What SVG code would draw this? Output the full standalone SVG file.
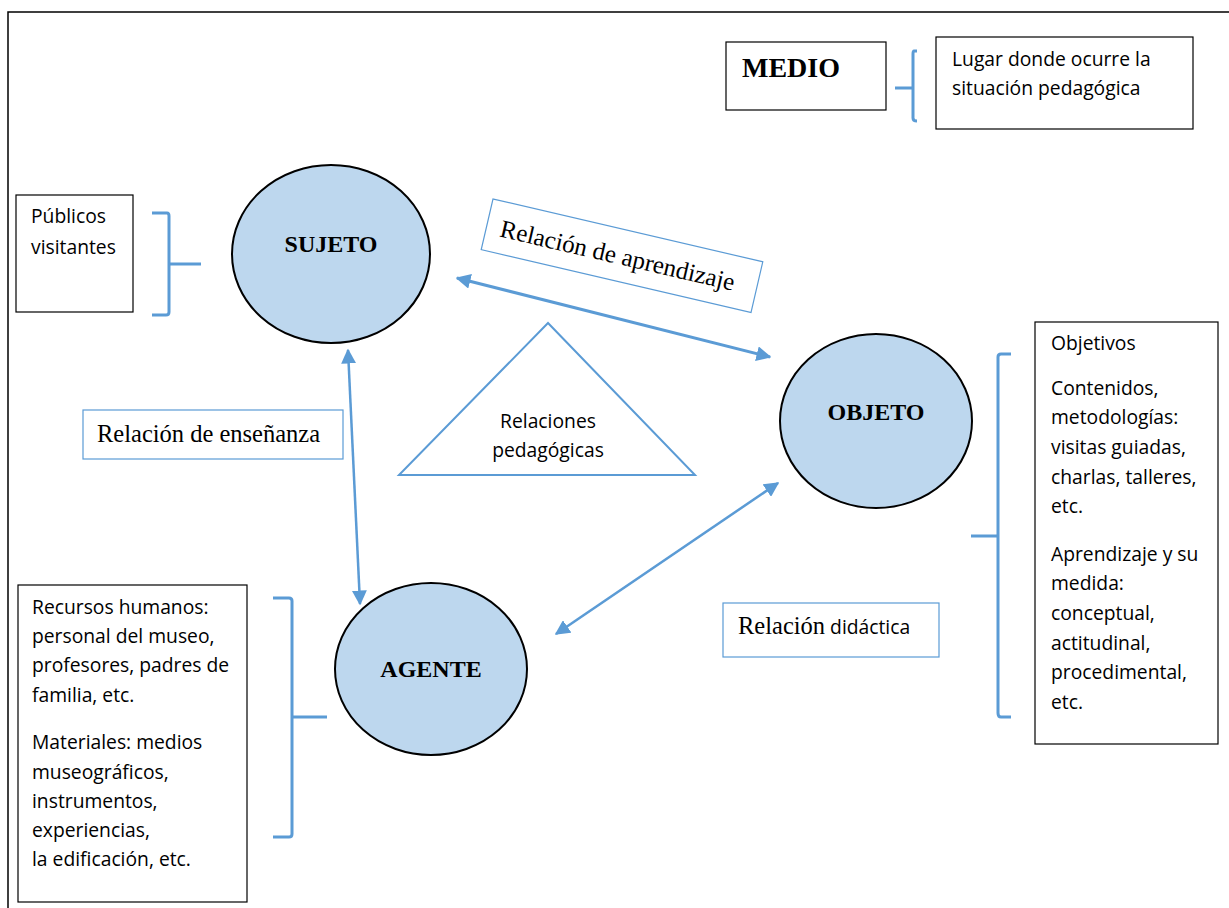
<svg xmlns="http://www.w3.org/2000/svg" width="1229" height="908" viewBox="0 0 1229 908">
<style>
.box{fill:#fff;stroke:#000;stroke-width:1.2}
.bbox{fill:#fff;stroke:#5b9bd5;stroke-width:1.2}
.ell{fill:#bdd7ee;stroke:#000;stroke-width:2}
.br{fill:none;stroke:#5b9bd5;stroke-width:3}
.con{fill:none;stroke:#5b9bd5}
.t{font-family:"Open Sans","Liberation Sans",sans-serif;font-size:19.3px;fill:#000}
.s{font-family:"Liberation Serif",serif;fill:#000}
.sb{font-family:"Liberation Serif",serif;font-weight:bold;fill:#000}
</style>
<defs>
<marker id="ah" viewBox="0 0 10 10" refX="9" refY="5" markerWidth="5" markerHeight="5" orient="auto-start-reverse" markerUnits="strokeWidth">
<path d="M0,0 L10,5 L0,10 z" fill="#5b9bd5"/>
</marker>
<marker id="ah2" viewBox="0 0 10 10" refX="9" refY="5" markerWidth="6" markerHeight="6" orient="auto-start-reverse" markerUnits="strokeWidth">
<path d="M0,0 L10,5 L0,10 z" fill="#5b9bd5"/>
</marker>
</defs>
<rect width="1229" height="908" fill="#fff"/>
<path d="M8,908 V12 H1229" fill="none" stroke="#000" stroke-width="1.5"/>

<g id="connectors">
<line class="con" x1="457" y1="278" x2="770" y2="357" stroke-width="3" marker-start="url(#ah)" marker-end="url(#ah)"/>
<line class="con" x1="348" y1="350" x2="360" y2="604" stroke-width="2.5" marker-start="url(#ah2)" marker-end="url(#ah2)"/>
<line class="con" x1="556" y1="634" x2="778" y2="483" stroke-width="2.5" marker-start="url(#ah2)" marker-end="url(#ah2)"/>
<path class="br" d="M917,51 H914 Q913,51 913,54 V118 Q913,121 917,121 M913,88 H895"/>
<path class="br" d="M152,213 H167 Q169,213 169,216 V312 Q169,315 166,315 H152 M169,264 H201"/>
<path class="br" d="M273,598 H289 Q292,598 292,601 V834 Q292,837 289,837 H273 M292,717 H327"/>
<path class="br" d="M1011,354 H1001 Q998,354 998,357 V713 Q998,717 1001,717 H1011 M998,536 H971"/>
</g>

<g id="medio">
<rect class="box" x="726" y="42" width="160" height="68"/>
<text class="sb" x="742" y="77" font-size="28">MEDIO</text>
</g>
<g id="lugar">
<rect class="box" x="936" y="37" width="257" height="92"/>
<text class="t" x="952" y="66">Lugar donde ocurre la</text>
<text class="t" x="952" y="95">situación pedagógica</text>
</g>
<g id="publicos">
<rect class="box" x="16" y="195" width="117" height="117"/>
<text class="t" x="31" y="223">Públicos</text>
<text class="t" x="31" y="254">visitantes</text>
</g>
<g id="sujeto">
<ellipse class="ell" cx="331" cy="254" rx="99" ry="89"/>
<text class="sb" x="331" y="252" font-size="24" text-anchor="middle">SUJETO</text>
</g>
<g id="rel-aprendizaje">
<g transform="translate(493,199) rotate(13.1)">
<rect class="bbox" x="0" y="0" width="277" height="52"/>
<text class="s" x="14" y="35" font-size="25">Relación de aprendizaje</text>
</g>
</g>
<g id="triangulo">
<polygon points="548,323 399,475 695,475" fill="#fff" stroke="#5b9bd5" stroke-width="2"/>
<text class="t" x="548" y="428" text-anchor="middle">Relaciones</text>
<text class="t" x="548" y="457" text-anchor="middle">pedagógicas</text>
</g>
<g id="rel-ensenanza">
<rect class="bbox" x="83" y="410" width="260" height="49"/>
<text class="s" x="97" y="442" font-size="24.5">Relación de enseñanza</text>
</g>
<g id="objeto">
<ellipse class="ell" cx="876" cy="421" rx="96" ry="87"/>
<text class="sb" x="876" y="420" font-size="24" text-anchor="middle">OBJETO</text>
</g>
<g id="objetivos">
<rect class="box" x="1035" y="322" width="183" height="422"/>
<text class="t" x="1051" y="350">Objetivos</text>
<text class="t" x="1051" y="395">Contenidos,</text>
<text class="t" x="1051" y="424">metodologías:</text>
<text class="t" x="1051" y="454">visitas guiadas,</text>
<text class="t" x="1051" y="484">charlas, talleres,</text>
<text class="t" x="1051" y="513">etc.</text>
<text class="t" x="1051" y="561">Aprendizaje y su</text>
<text class="t" x="1051" y="590">medida:</text>
<text class="t" x="1051" y="620">conceptual,</text>
<text class="t" x="1051" y="650">actitudinal,</text>
<text class="t" x="1051" y="679">procedimental,</text>
<text class="t" x="1051" y="709">etc.</text>
</g>
<g id="rel-didactica">
<rect class="bbox" x="723" y="603" width="216" height="54"/>
<text x="738" y="634"><tspan class="s" font-size="24.5">Relación</tspan><tspan class="t" font-size="20.5"> didáctica</tspan></text>
</g>
<g id="agente">
<ellipse class="ell" cx="431" cy="669" rx="96" ry="86"/>
<text class="sb" x="431" y="677" font-size="24" text-anchor="middle">AGENTE</text>
</g>
<g id="recursos">
<rect class="box" x="18" y="585" width="229" height="317"/>
<text class="t" x="32" y="614">Recursos humanos:</text>
<text class="t" x="32" y="643">personal del museo,</text>
<text class="t" x="32" y="672">profesores, padres de</text>
<text class="t" x="32" y="702">familia, etc.</text>
<text class="t" x="32" y="749">Materiales: medios</text>
<text class="t" x="32" y="779">museográficos,</text>
<text class="t" x="32" y="808">instrumentos,</text>
<text class="t" x="32" y="837">experiencias,</text>
<text class="t" x="32" y="866">la edificación, etc.</text>
</g>
</svg>
